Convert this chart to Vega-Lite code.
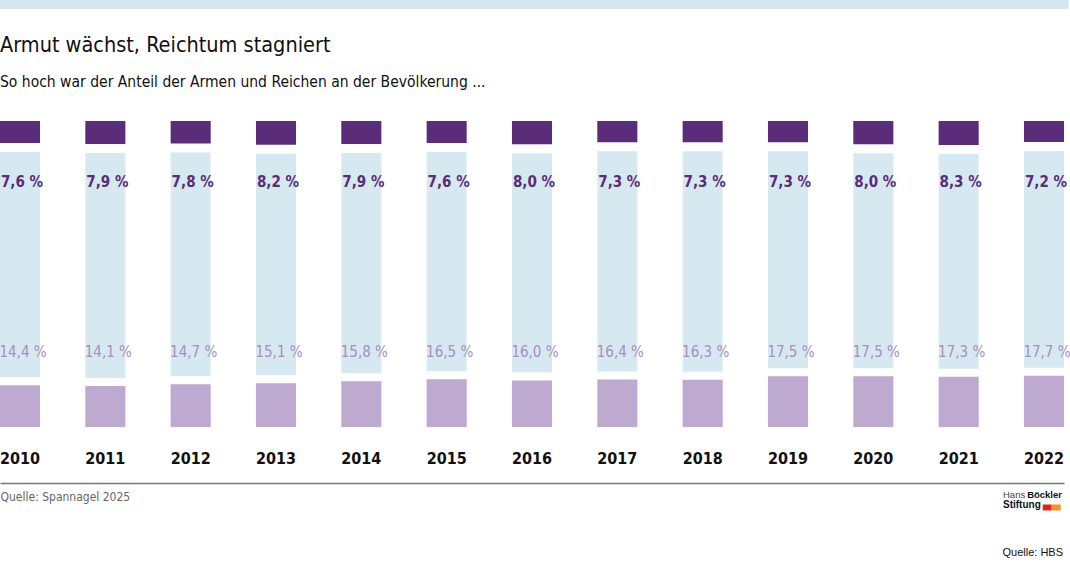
{
  "$schema": "https://vega.github.io/schema/vega-lite/v6.json",
  "width": 1064,
  "height": 306,
  "autosize": {"type": "none"},
  "padding": {"top": 121, "left": 0, "right": 6, "bottom": 142},
  "background": "white",
  "config": {
    "view": {"stroke": null},
    "locale": {"number": {"decimal": ",", "thousands": ".", "grouping": [3], "currency": ["", " €"], "percent": " %"}},
    "font": "DejaVu Sans Condensed, sans-serif"
  },
  "title": {
    "text": "Armut wächst, Reichtum stagniert",
    "subtitle": "So hoch war der Anteil der Armen und Reichen an der Bevölkerung ...",
    "anchor": "start",
    "frame": "group",
    "font": "DejaVu Sans Condensed, sans-serif",
    "fontSize": 21.5,
    "fontWeight": "normal",
    "color": "#111111",
    "subtitleFont": "DejaVu Sans Condensed, sans-serif",
    "subtitleFontSize": 15.5,
    "subtitleColor": "#111111",
    "subtitlePadding": 18,
    "offset": -92
  },
  "data": {
    "values": [
      {"year": "2010", "arm": 0.144, "rei": 0.076},
      {"year": "2011", "arm": 0.141, "rei": 0.079},
      {"year": "2012", "arm": 0.147, "rei": 0.078},
      {"year": "2013", "arm": 0.151, "rei": 0.082},
      {"year": "2014", "arm": 0.158, "rei": 0.079},
      {"year": "2015", "arm": 0.165, "rei": 0.076},
      {"year": "2016", "arm": 0.160, "rei": 0.080},
      {"year": "2017", "arm": 0.164, "rei": 0.073},
      {"year": "2018", "arm": 0.163, "rei": 0.073},
      {"year": "2019", "arm": 0.175, "rei": 0.073},
      {"year": "2020", "arm": 0.175, "rei": 0.080},
      {"year": "2021", "arm": 0.173, "rei": 0.083},
      {"year": "2022", "arm": 0.177, "rei": 0.072}
    ]
  },
  "encoding": {
    "x": {
      "field": "year",
      "type": "ordinal",
      "scale": {"paddingInner": 0.531, "paddingOuter": 0},
      "axis": {
        "title": "Quelle: Spannagel 2025",
        "titleAnchor": "start",
        "titleAlign": "left",
        "titleBaseline": "top",
        "titleX": 0,
        "titleY": 8,
        "titleFont": "DejaVu Sans Condensed, sans-serif",
        "titleFontSize": 12,
        "titleFontWeight": "normal",
        "titleColor": "#666666",
        "offset": 56,
        "domainColor": "#777777",
        "domainWidth": 1.5,
        "ticks": false,
        "tickSize": 0,
        "labelAngle": 0,
        "labelBaseline": "middle",
        "labelPadding": -25,
        "labelFont": "DejaVu Sans Condensed, sans-serif",
        "labelFontSize": 16,
        "labelFontWeight": "bold",
        "labelColor": "#111111"
      }
    }
  },
  "layer": [
    {
      "mark": {"type": "bar", "color": "#d6e9f0"},
      "encoding": {
        "y": {"datum": 1.055, "type": "quantitative", "scale": {"domain": [0, 1.055]}, "axis": null},
        "y2": {"datum": 0}
      }
    },
    {
      "mark": {"type": "bar", "color": "white", "yOffset": -8},
      "encoding": {
        "y": {"field": "arm", "type": "quantitative", "scale": {"domain": [0, 1.055]}, "axis": null},
        "y2": {"datum": 0}
      }
    },
    {
      "mark": {"type": "bar", "color": "#bea9d0"},
      "encoding": {
        "y": {"field": "arm", "type": "quantitative", "scale": {"domain": [0, 1.055]}, "axis": null},
        "y2": {"datum": 0}
      }
    },
    {
      "mark": {"type": "bar", "color": "white", "yOffset": 9},
      "encoding": {
        "y": {"field": "rei", "type": "quantitative", "scale": {"domain": [0, 1.055], "reverse": true}, "axis": null},
        "y2": {"datum": 0}
      }
    },
    {
      "mark": {"type": "bar", "color": "#5a2c7a"},
      "encoding": {
        "y": {"field": "rei", "type": "quantitative", "scale": {"domain": [0, 1.055], "reverse": true}, "axis": null},
        "y2": {"datum": 0}
      }
    },
    {
      "mark": {"type": "text", "color": "#a98dc4", "fontSize": 15, "dx": 3, "baseline": "middle", "align": "center"},
      "encoding": {
        "y": {"datum": 0.259, "type": "quantitative", "scale": {"domain": [0, 1.055]}, "axis": null},
        "text": {"field": "arm", "type": "quantitative", "format": ".1%"}
      }
    },
    {
      "mark": {"type": "text", "color": "#5a2c7a", "fontSize": 15, "fontWeight": "bold", "dx": 2, "baseline": "middle", "align": "center"},
      "encoding": {
        "y": {"datum": 0.845, "type": "quantitative", "scale": {"domain": [0, 1.055]}, "axis": null},
        "text": {"field": "rei", "type": "quantitative", "format": ".1%"}
      }
    },
    {
      "data": {"values": [{"k": "strip"}]},
      "mark": {"type": "rule", "color": "#d3e6ef", "strokeWidth": 9, "strokeCap": "square"},
      "encoding": {
        "x": {"datum": "2010", "bandPosition": 0},
        "x2": {"datum": "2022", "bandPosition": 1},
        "y": {"datum": 1.457, "type": "quantitative", "scale": {"domain": [0, 1.055]}, "axis": null}
      }
    },
    {
      "data": {"values": [{"k": "hbs"}]},
      "mark": {"type": "text", "text": "Quelle: HBS", "font": "Liberation Sans, Arial, sans-serif", "fontSize": 11, "align": "right", "baseline": "middle", "dx": -1, "color": "#111111"},
      "encoding": {
        "x": {"datum": "2022", "bandPosition": 1},
        "y": {"datum": -0.4334, "type": "quantitative", "scale": {"domain": [0, 1.055]}, "axis": null}
      }
    },
    {
      "data": {"values": [{"k": "hans"}]},
      "mark": {"type": "text", "text": "Hans", "font": "Liberation Sans, Arial, sans-serif", "fontSize": 9.5, "align": "left", "baseline": "middle", "dx": -61, "color": "#444444"},
      "encoding": {
        "x": {"datum": "2022", "bandPosition": 1},
        "y": {"datum": -0.2345, "type": "quantitative", "scale": {"domain": [0, 1.055]}, "axis": null}
      }
    },
    {
      "data": {"values": [{"k": "boeckler"}]},
      "mark": {"type": "text", "text": "Böckler", "font": "Liberation Sans, Arial, sans-serif", "fontSize": 9.5, "fontWeight": "bold", "align": "right", "baseline": "middle", "dx": -2, "color": "#111111"},
      "encoding": {
        "x": {"datum": "2022", "bandPosition": 1},
        "y": {"datum": -0.2345, "type": "quantitative", "scale": {"domain": [0, 1.055]}, "axis": null}
      }
    },
    {
      "data": {"values": [{"k": "stiftung"}]},
      "mark": {"type": "text", "text": "Stiftung", "font": "Liberation Sans, Arial, sans-serif", "fontSize": 10, "fontWeight": "bold", "align": "left", "baseline": "middle", "dx": -61, "color": "#111111"},
      "encoding": {
        "x": {"datum": "2022", "bandPosition": 1},
        "y": {"datum": -0.27, "type": "quantitative", "scale": {"domain": [0, 1.055]}, "axis": null}
      }
    },
    {
      "data": {"values": [{"k": "red"}]},
      "mark": {"type": "point", "shape": "M-1,-0.667H1V0.667H-1Z", "size": 81, "filled": true, "color": "#e2231a", "opacity": 1, "strokeWidth": 0, "xOffset": -16.8},
      "encoding": {
        "x": {"datum": "2022", "bandPosition": 1},
        "y": {"datum": -0.2775, "type": "quantitative", "scale": {"domain": [0, 1.055]}, "axis": null}
      }
    },
    {
      "data": {"values": [{"k": "orange"}]},
      "mark": {"type": "point", "shape": "M-1,-0.667H1V0.667H-1Z", "size": 81, "filled": true, "color": "#f39222", "opacity": 1, "strokeWidth": 0, "xOffset": -7.8},
      "encoding": {
        "x": {"datum": "2022", "bandPosition": 1},
        "y": {"datum": -0.2775, "type": "quantitative", "scale": {"domain": [0, 1.055]}, "axis": null}
      }
    }
  ],
  "resolve": {"scale": {"y": "independent"}}
}
